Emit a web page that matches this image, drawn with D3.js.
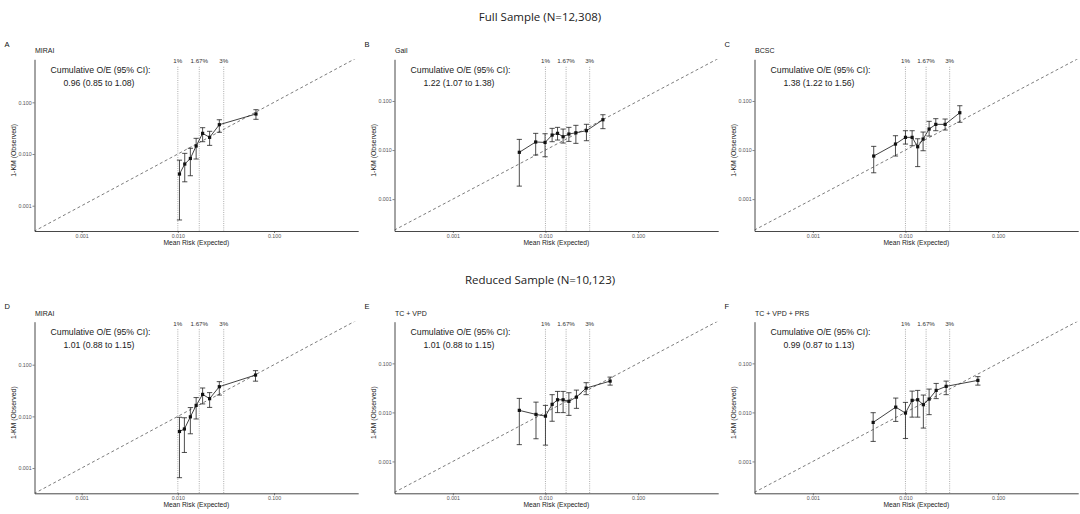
<!DOCTYPE html>
<html>
<head>
<meta charset="utf-8">
<script src="https://cdn.jsdelivr.net/npm/d3@7"></script>
<style>
  body { margin: 0; background: #fff; }
  text { font-family: "Liberation Sans", Arial, sans-serif; }
</style>
</head>
<body>
<svg id="chart"></svg>
<script>
var width = 1080,
    height = 514;

// labels shared by the panels
var rowTitles = ["Full Sample (N=12,308)", "Reduced Sample (N=10,123)"];
var letters = ["A", "B", "C", "D", "E", "F"];
var models = ["MIRAI", "Gail", "BCSC", "MIRAI", "TC + VPD", "TC + VPD + PRS"];
var oeText = ["0.96 (0.85 to 1.08)", "1.22 (1.07 to 1.38)", "1.38 (1.22 to 1.56)",
              "1.01 (0.88 to 1.15)", "1.01 (0.88 to 1.15)", "0.99 (0.87 to 1.13)"];
var cuts = [0.01, 0.0167, 0.03];
var cutLabels = ["1%", "1.67%", "3%"];
var tickVals = [0.001, 0.01, 0.1];

// A - MIRAI (full sample)
var expA = [0.0104, 0.0118, 0.0135, 0.0155, 0.0181, 0.0214, 0.0270, 0.0649];
var obsA = [0.0041, 0.0064, 0.0082, 0.0143, 0.0251, 0.0210, 0.0369, 0.0594];
var loA  = [0.00053, 0.0029, 0.0038, 0.0080, 0.0173, 0.0147, 0.0263, 0.0469];
var hiA  = [0.0076, 0.0103, 0.0129, 0.0201, 0.0323, 0.0275, 0.0460, 0.0720];

// B - Gail
var expB = [0.00522, 0.00784, 0.0099, 0.0118, 0.0135, 0.0155, 0.0179, 0.0213, 0.0277, 0.0417];
var obsB = [0.0090, 0.0146, 0.0143, 0.0202, 0.0219, 0.0187, 0.0212, 0.0225, 0.0248, 0.0415];
var loB  = [0.00184, 0.0079, 0.0073, 0.0148, 0.0160, 0.0139, 0.0150, 0.0137, 0.0155, 0.0273];
var hiB  = [0.0165, 0.0219, 0.0215, 0.0277, 0.0290, 0.0268, 0.0290, 0.0319, 0.0335, 0.0525];

// C - BCSC
var expC = [0.00454, 0.0078, 0.0100, 0.0118, 0.01355, 0.0155, 0.0180, 0.02125, 0.0268, 0.0386];
var obsC = [0.00755, 0.01325, 0.01815, 0.01815, 0.01167, 0.01675, 0.0268, 0.0334, 0.0334, 0.0577];
var loC  = [0.00344, 0.00755, 0.01325, 0.01225, 0.0046, 0.00968, 0.0193, 0.0248, 0.0256, 0.0368];
var hiC  = [0.0119, 0.0196, 0.0248, 0.0248, 0.0170, 0.0233, 0.0385, 0.0436, 0.0429, 0.0801];

// D - MIRAI (reduced sample)
var expD = [0.0104, 0.0117, 0.0135, 0.0155, 0.0181, 0.0214, 0.0270, 0.0642];
var obsD = [0.0051, 0.0057, 0.0098, 0.0163, 0.0266, 0.0220, 0.0375, 0.0630];
var loD  = [0.00065, 0.0020, 0.0046, 0.0089, 0.0174, 0.0149, 0.0258, 0.0480];
var hiD  = [0.0096, 0.0094, 0.0148, 0.0231, 0.0354, 0.0288, 0.0470, 0.0767];

// E - TC + VPD
var expE = [0.00522, 0.0079, 0.0100, 0.0118, 0.0135, 0.0155, 0.0179, 0.0216, 0.0275, 0.0499];
var obsE = [0.0110, 0.0091, 0.0084, 0.0146, 0.0181, 0.0181, 0.0168, 0.0205, 0.0313, 0.0435];
var loE  = [0.0022, 0.0029, 0.00215, 0.0066, 0.0099, 0.0099, 0.0087, 0.0121, 0.0230, 0.0360];
var hiE  = [0.0193, 0.0162, 0.0139, 0.0230, 0.0268, 0.0268, 0.0252, 0.0285, 0.0404, 0.0525];

// F - TC + VPD + PRS
var expF = [0.00448, 0.00785, 0.0100, 0.0118, 0.01355, 0.0156, 0.0180, 0.02145, 0.0275, 0.0605];
var obsF = [0.00625, 0.0128, 0.0097, 0.0176, 0.0181, 0.01436, 0.0187, 0.0281, 0.0340, 0.0450];
var loF  = [0.00256, 0.00655, 0.00294, 0.0080, 0.0080, 0.00479, 0.0090, 0.0191, 0.0230, 0.0360];
var hiF  = [0.00986, 0.0196, 0.0160, 0.0272, 0.0281, 0.0226, 0.0299, 0.0390, 0.0435, 0.0536];

var panels = [
  {exp: expA, obs: obsA, lo: loA, hi: hiA},
  {exp: expB, obs: obsB, lo: loB, hi: hiB},
  {exp: expC, obs: obsC, lo: loC, hi: hiC},
  {exp: expD, obs: obsD, lo: loD, hi: hiD},
  {exp: expE, obs: obsE, lo: loE, hi: hiE},
  {exp: expF, obs: obsF, lo: loF, hi: hiF}
];

// layout: column offsets, plot rows, log10 limits of each panel
var colX = [0, 360, 720];
var rowTop = [59.3, 321.7],
    rowBottom = [231, 493.3];
var plotLeft = 34.5, plotRight = 358.2;
var xLim = [[-3.49, -0.125], [-3.63, -0.135], [-3.63, -0.135]];
var yLim = [[-3.489, -0.168], [-3.65, -0.15], [-3.65, -0.15]];

var svg = d3.select("#chart")
    .attr("width", width)
    .attr("height", height);

// row titles
svg.selectAll("text.rowtitle")
  .data(rowTitles)
  .join("text")
  .attr("class", "rowtitle")
  .attr("x", 540)
  .attr("y", function(d, i) { return i === 0 ? 21 : 284; })
  .attr("text-anchor", "middle")
  .style("font-family", "'Open Sans', sans-serif")
  .style("font-size", "11.5px")
  .style("fill", "#222")
  .text(function(d) { return d; });

panels.forEach(function(p, i) {
  var col = i % 3, row = Math.floor(i / 3);
  var ox = colX[col];
  var top = rowTop[row], bottom = rowBottom[row];

  var x = d3.scaleLog()
    .domain(xLim[col].map(function(v) { return Math.pow(10, v); }))
    .range([ox + plotLeft, ox + plotRight]);
  var y = d3.scaleLog()
    .domain(yLim[col].map(function(v) { return Math.pow(10, v); }))
    .range([bottom, top]);

  var g = svg.append("g");

  g.append("clipPath").attr("id", "clip" + i)
    .append("rect")
    .attr("x", ox + plotLeft).attr("y", top)
    .attr("width", plotRight - plotLeft).attr("height", bottom - top);

  // panel letter and model name
  g.append("text")
    .attr("x", ox + 4.5).attr("y", top - 12.5)
    .style("font-size", "7.5px").style("fill", "#111")
    .text(letters[i]);
  g.append("text")
    .attr("x", ox + plotLeft + 0.5).attr("y", top - 6)
    .style("font-size", "7px").style("fill", "#222")
    .text(models[i]);

  // risk thresholds
  g.selectAll("line.cut")
    .data(cuts)
    .join("line")
    .attr("x1", function(d) { return x(d); })
    .attr("x2", function(d) { return x(d); })
    .attr("y1", top + 7.5)
    .attr("y2", bottom)
    .attr("stroke", "#777")
    .attr("stroke-width", 0.6)
    .attr("stroke-dasharray", "1,1.2");
  g.selectAll("text.cut")
    .data(cuts)
    .join("text")
    .attr("x", function(d) { return x(d); })
    .attr("y", top + 4)
    .attr("text-anchor", "middle")
    .style("font-size", "6.2px")
    .style("fill", "#333")
    .text(function(d, k) { return cutLabels[k]; });

  // identity line
  g.append("line")
    .attr("clip-path", "url(#clip" + i + ")")
    .attr("x1", x(1e-4)).attr("y1", y(1e-4))
    .attr("x2", x(1)).attr("y2", y(1))
    .attr("stroke", "#444")
    .attr("stroke-width", 0.7)
    .attr("stroke-dasharray", "3,2.5");

  // O/E annotation
  g.append("text")
    .attr("x", ox + 100.5).attr("y", top + 13.5)
    .attr("text-anchor", "middle")
    .style("font-size", "8.7px").style("fill", "#222")
    .text("Cumulative O/E (95% CI):");
  g.append("text")
    .attr("x", ox + 99).attr("y", top + 26.5)
    .attr("text-anchor", "middle")
    .style("font-size", "8.7px").style("fill", "#222")
    .text(oeText[i]);

  var pts = p.exp.map(function(e, k) {
    return {e: e, o: p.obs[k], lo: p.lo[k], hi: p.hi[k]};
  });

  // error bars
  g.selectAll("line.bar")
    .data(pts)
    .join("line")
    .attr("x1", function(d) { return x(d.e); })
    .attr("x2", function(d) { return x(d.e); })
    .attr("y1", function(d) { return y(d.lo); })
    .attr("y2", function(d) { return y(d.hi); })
    .attr("stroke", "#222")
    .attr("stroke-width", 0.8);
  ["lo", "hi"].forEach(function(k) {
    g.selectAll("line.cap" + k)
      .data(pts)
      .join("line")
      .attr("x1", function(d) { return x(d.e) - 2.6; })
      .attr("x2", function(d) { return x(d.e) + 2.6; })
      .attr("y1", function(d) { return y(d[k]); })
      .attr("y2", function(d) { return y(d[k]); })
      .attr("stroke", "#222")
      .attr("stroke-width", 0.8);
  });

  // calibration line and points
  g.append("path")
    .datum(pts)
    .attr("fill", "none")
    .attr("stroke", "#111")
    .attr("stroke-width", 0.8)
    .attr("d", d3.line().x(function(d) { return x(d.e); }).y(function(d) { return y(d.o); }));
  g.selectAll("rect.pt")
    .data(pts)
    .join("rect")
    .attr("x", function(d) { return x(d.e) - 1.6; })
    .attr("y", function(d) { return y(d.o) - 1.6; })
    .attr("width", 3.2)
    .attr("height", 3.2)
    .attr("fill", "#111");

  // axes
  var xAxis = g.append("g")
    .attr("transform", "translate(0," + bottom + ")")
    .call(d3.axisBottom(x).tickValues(tickVals).tickFormat(d3.format(".3f"))
      .tickSize(2).tickSizeOuter(0).tickPadding(0.8));
  var yAxis = g.append("g")
    .attr("transform", "translate(" + (ox + plotLeft) + ",0)")
    .call(d3.axisLeft(y).tickValues(tickVals).tickFormat(d3.format(".3f"))
      .tickSize(2).tickSizeOuter(0).tickPadding(0.8));
  [xAxis, yAxis].forEach(function(a) {
    a.select(".domain").attr("stroke", "#333").attr("stroke-width", 0.9);
    a.selectAll(".tick line").attr("stroke", "#333").attr("stroke-width", 0.6);
    a.selectAll(".tick text")
      .style("font-family", "'Liberation Sans', Arial, sans-serif")
      .style("font-size", "5.3px")
      .attr("fill", "#555");
  });

  // axis titles
  g.append("text")
    .attr("x", ox + (plotLeft + plotRight) / 2)
    .attr("y", bottom + 14)
    .attr("text-anchor", "middle")
    .style("font-size", "6.7px").style("fill", "#222")
    .text("Mean Risk (Expected)");
  g.append("text")
    .attr("transform", "translate(" + (ox + 15.5) + "," + (top + 91) + ") rotate(-90)")
    .attr("text-anchor", "middle")
    .style("font-size", "6.9px").style("fill", "#222")
    .text("1-KM (Observed)");
});
</script>
</body>
</html>
